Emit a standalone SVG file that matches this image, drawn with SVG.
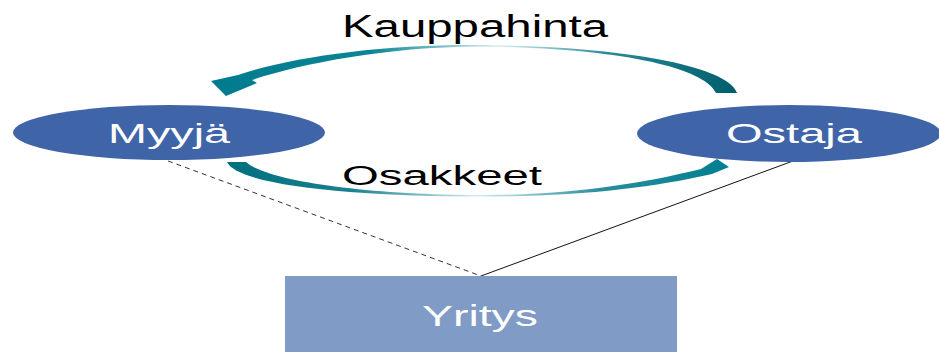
<svg xmlns="http://www.w3.org/2000/svg" width="939" height="352" viewBox="0 0 939 352">
<style>
.lbl{font-family:"Liberation Sans",Arial,sans-serif;fill:#000;text-anchor:middle}
.nt{font-family:"Liberation Sans",Arial,sans-serif;fill:#fff;text-anchor:middle}
.ell{fill:#3f65a8}
</style>
<defs>
<linearGradient id="gTop" x1="215" y1="0" x2="736" y2="0" gradientUnits="userSpaceOnUse">
<stop offset="0" stop-color="#007b8e"/>
<stop offset="0.3" stop-color="#0b8596"/>
<stop offset="0.55" stop-color="#d9eef1"/>
<stop offset="0.75" stop-color="#2a8a98"/>
<stop offset="1" stop-color="#005e6c"/>
</linearGradient>
<linearGradient id="gBot" x1="227" y1="0" x2="726" y2="0" gradientUnits="userSpaceOnUse">
<stop offset="0" stop-color="#006f7e"/>
<stop offset="0.25" stop-color="#1a8190"/>
<stop offset="0.5" stop-color="#d4ebef"/>
<stop offset="0.75" stop-color="#2a8d9b"/>
<stop offset="1" stop-color="#007f92"/>
</linearGradient>
</defs>
<g id="connectors">
<line x1="168" y1="161" x2="481" y2="276" stroke="#333" stroke-width="1" stroke-dasharray="5,4"/>
<line x1="793" y1="161" x2="481" y2="276" stroke="#111" stroke-width="1"/>
<path id="arrow-kauppahinta" fill="url(#gTop)" d="M 737,93 C 731,70 642,46.5 478,45 C 380,44.5 292,57 238,75 L 211,81 L 226,96 L 257,83 L 252,80 C 300,64 385,47 478,46.5 C 630,48 706,70 716,93 Z"/>
<path id="arrow-osakkeet" fill="url(#gBot)" d="M 227,162 C 238,186 360,196.5 480,196.5 C 580,196.5 650,188 712,174 L 729,167 L 717,159 L 701,169 C 640,184 570,195 480,195 C 372,195 268,182 246,162 Z"/>
<text class="lbl" x="475" y="37" font-size="31" textLength="266" lengthAdjust="spacingAndGlyphs">Kauppahinta</text>
<text class="lbl" x="442" y="185" font-size="27" textLength="200" lengthAdjust="spacingAndGlyphs">Osakkeet</text>
</g>
<g id="myyja">
<ellipse class="ell" cx="169" cy="132.5" rx="156" ry="27.5"/>
<text class="nt" x="169" y="143" font-size="28" textLength="122" lengthAdjust="spacingAndGlyphs">Myyjä</text>
</g>
<g id="ostaja">
<ellipse class="ell" cx="789" cy="133.5" rx="152" ry="28.5"/>
<text class="nt" x="794" y="143" font-size="28" textLength="136" lengthAdjust="spacingAndGlyphs">Ostaja</text>
</g>
<g id="yritys">
<rect x="285" y="276" width="392" height="90" fill="#7f9bc6"/>
<text class="nt" x="480" y="326" font-size="29" textLength="116" lengthAdjust="spacingAndGlyphs">Yritys</text>
</g>
</svg>
